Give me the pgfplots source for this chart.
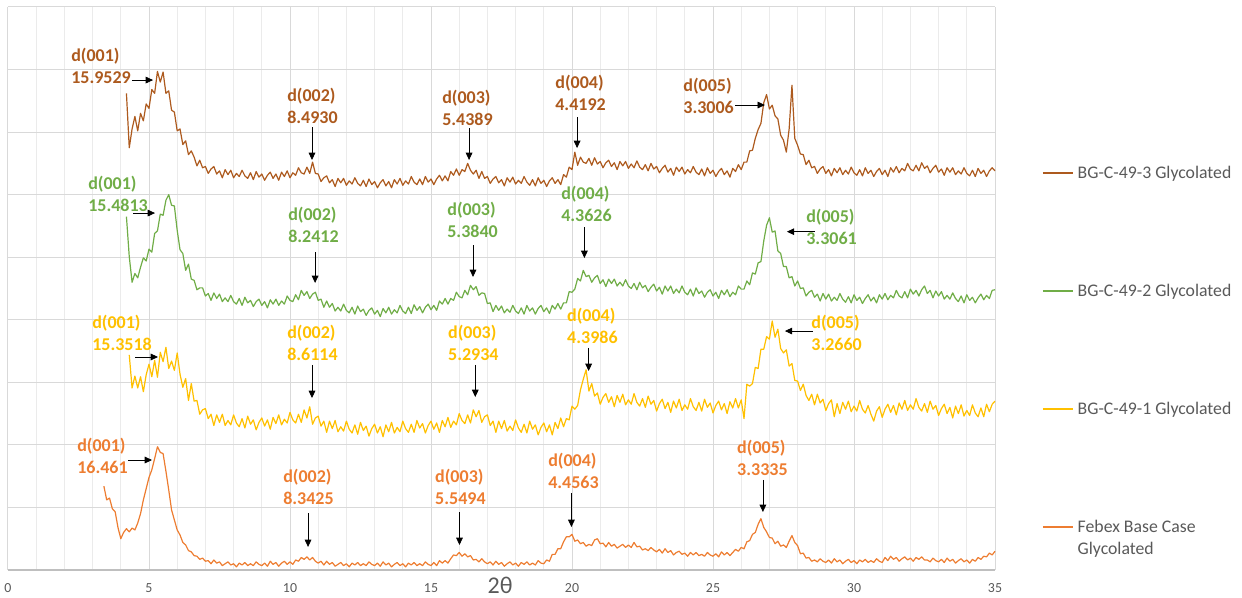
\documentclass[border=0pt]{standalone}
\usepackage{fontspec}
\setmainfont{Carlito}
\usepackage{pgfplots}
\pgfplotsset{compat=1.18}
\usetikzlibrary{arrows.meta}

\definecolor{s3}{HTML}{AD5A1E}
\definecolor{s2}{HTML}{70AD47}
\definecolor{s1}{HTML}{FFC000}
\definecolor{s0}{HTML}{ED7D31}
\definecolor{txt}{HTML}{595959}
\definecolor{gridmaj}{HTML}{D9D9D9}
\definecolor{gridmin}{HTML}{EBEBEB}
\definecolor{axisgray}{HTML}{BFBFBF}

\newcommand{\labfont}{\fontsize{13.5}{16.5}\selectfont\bfseries}
% peak label: x of left edge, baseline of first line, colour, reflection, d-spacing
\newcommand{\peak}[5]{%
  \node[anchor=base west, inner sep=0pt, text=#3, font=\labfont] at (axis cs:#1,#2) {#4};
  \node[anchor=base west, inner sep=0pt, text=#3, font=\labfont, yshift=-16.5pt] at (axis cs:#1,#2) {#5};}
% pointer arrow
\newcommand{\arr}[4]{%
  \draw[-{Triangle[length=5.5pt,width=5pt]}, line width=0.6pt, black] (axis cs:#1,#2) -- (axis cs:#3,#4);}

\begin{document}
\begin{tikzpicture}
\begin{axis}[
  at={(6pt,21pt)}, anchor=south west,
  scale only axis, width=740.25pt, height=422.25pt,
  xmin=0, xmax=35, ymin=0, ymax=9,
  xtick={0,5,...,35}, minor x tick num=4,
  ytick={0,1,...,9}, yticklabels={},
  grid=both,
  major grid style={gridmaj, line width=0.75pt},
  minor grid style={gridmin, line width=0.75pt},
  axis line style={draw=none},
  major tick length=0pt, minor tick length=0pt,
  tick label style={font=\fontsize{10.4}{12}\selectfont, text=txt},
  xticklabel style={inner sep=0pt, yshift=-10pt},
  /pgf/number format/assume math mode=true,
  clip=false,
  legend cell align=left,
  legend style={at={(1.0476,0.7185)}, anchor=north west, draw=none, fill=none,
    inner sep=0pt, row sep=77.8pt, column sep=3pt,
    font=\fontsize{13.3}{16}\selectfont, text=txt, nodes={inner sep=0pt}},
  legend image code/.code={\draw[#1, line width=1.1pt] (0pt,0pt) -- (22.5pt,0pt);},
  every axis plot/.append style={line width=0.9pt, line join=round},
]
\draw[color=axisgray, line width=0.9pt] (axis cs:0,0) -- (axis cs:35,0);

% BG-C-49-3 Glycolated
\addplot[s3] coordinates {
(4.2,7.62)(4.3,6.75)(4.4,7.05)(4.5,7.25)(4.6,7.02)(4.7,7.30)(4.8,7.18)(4.9,7.45)(5.0,7.38)(5.1,7.68)(5.2,7.62)(5.3,7.97)(5.4,7.80)(5.5,7.96)(5.6,7.62)(5.7,7.66)(5.8,7.35)(5.9,7.32)(6.0,7.02)(6.1,7.05)(6.2,6.80)(6.3,6.86)(6.4,6.64)(6.5,6.70)
(6.6,6.60)(6.7,6.46)(6.8,6.55)(6.9,6.43)(7.0,6.45)(7.1,6.34)(7.2,6.41)(7.3,6.45)(7.4,6.33)(7.5,6.38)(7.6,6.27)(7.7,6.40)(7.8,6.32)(7.9,6.39)(8.0,6.27)(8.1,6.34)(8.2,6.29)(8.3,6.39)(8.4,6.30)(8.5,6.26)(8.6,6.35)(8.7,6.24)(8.8,6.37)(8.9,6.28)(9.0,6.33)
(9.1,6.23)(9.2,6.31)(9.3,6.36)(9.4,6.26)(9.5,6.33)(9.6,6.23)(9.7,6.36)(9.8,6.29)(9.9,6.38)(10.0,6.27)(10.1,6.35)(10.2,6.31)(10.3,6.43)(10.4,6.35)(10.5,6.33)(10.6,6.44)(10.7,6.34)(10.8,6.52)(10.9,6.34)(11.0,6.33)
(11.1,6.21)(11.2,6.27)(11.3,6.30)(11.4,6.19)(11.5,6.24)(11.6,6.13)(11.7,6.26)(11.8,6.19)(11.9,6.26)(12.0,6.15)(12.1,6.22)(12.2,6.17)(12.3,6.27)(12.4,6.18)(12.5,6.14)(12.6,6.23)(12.7,6.13)(12.8,6.25)(12.9,6.16)(13.0,6.21)
(13.1,6.11)(13.2,6.19)(13.3,6.24)(13.4,6.14)(13.5,6.21)(13.6,6.11)(13.7,6.24)(13.8,6.17)(13.9,6.26)(14.0,6.15)(14.1,6.22)(14.2,6.17)(14.3,6.29)(14.4,6.20)(14.5,6.16)(14.6,6.25)(14.7,6.16)(14.8,6.29)(14.9,6.20)(15.0,6.25)
(15.1,6.16)(15.2,6.25)(15.3,6.31)(15.4,6.22)(15.5,6.30)(15.6,6.22)(15.7,6.37)(15.8,6.31)(15.9,6.41)(16.0,6.31)(16.1,6.40)(16.2,6.37)(16.3,6.50)(16.4,6.39)(16.5,6.33)(16.6,6.39)(16.7,6.26)(16.8,6.37)(16.9,6.26)(17.0,6.29)
(17.1,6.18)(17.2,6.25)(17.3,6.29)(17.4,6.19)(17.5,6.24)(17.6,6.14)(17.7,6.27)(17.8,6.20)(17.9,6.28)(18.0,6.17)(18.1,6.23)(18.2,6.18)(18.3,6.29)(18.4,6.20)(18.5,6.15)(18.6,6.24)(18.7,6.14)(18.8,6.27)(18.9,6.18)(19.0,6.23)
(19.1,6.13)(19.2,6.22)(19.3,6.27)(19.4,6.18)(19.5,6.24)(19.6,6.16)(19.7,6.32)(19.8,6.28)(19.9,6.44)(20.0,6.40)(20.1,6.68)(20.2,6.47)(20.3,6.60)(20.4,6.52)(20.5,6.50)(20.6,6.58)(20.7,6.47)(20.8,6.59)(20.9,6.49)(21.0,6.53)
(21.1,6.43)(21.2,6.51)(21.3,6.55)(21.4,6.45)(21.5,6.51)(21.6,6.40)(21.7,6.53)(21.8,6.46)(21.9,6.53)(22.0,6.42)(22.1,6.49)(22.2,6.43)(22.3,6.54)(22.4,6.44)(22.5,6.40)(22.6,6.48)(22.7,6.38)(22.8,6.50)(22.9,6.41)(23.0,6.45)
(23.1,6.35)(23.2,6.42)(23.3,6.47)(23.4,6.36)(23.5,6.42)(23.6,6.31)(23.7,6.44)(23.8,6.37)(23.9,6.44)(24.0,6.33)(24.1,6.40)(24.2,6.35)(24.3,6.45)(24.4,6.36)(24.5,6.32)(24.6,6.41)(24.7,6.30)(24.8,6.43)(24.9,6.34)(25.0,6.39)
(25.1,6.29)(25.2,6.37)(25.3,6.42)(25.4,6.32)(25.5,6.38)(25.6,6.28)(25.7,6.42)(25.8,6.37)(25.9,6.48)(26.0,6.40)(26.1,6.52)(26.2,6.52)(26.3,6.70)(26.4,6.71)(26.5,6.90)(26.6,7.04)(26.7,7.14)(26.8,7.47)(26.9,7.60)(27.0,7.37)
(27.1,7.43)(27.2,7.26)(27.3,7.21)(27.4,6.95)(27.5,6.87)(27.6,6.68)(27.7,7.05)(27.8,7.75)(27.9,6.90)(28.0,6.79)(28.1,6.65)(28.2,6.64)(28.3,6.48)(28.4,6.55)(28.5,6.43)(28.6,6.45)(28.7,6.34)(28.8,6.41)(28.9,6.45)(29.0,6.34)
(29.1,6.40)(29.2,6.30)(29.3,6.42)(29.4,6.35)(29.5,6.43)(29.6,6.32)(29.7,6.39)(29.8,6.33)(29.9,6.44)(30.0,6.35)(30.1,6.31)(30.2,6.40)(30.3,6.30)(30.4,6.43)(30.5,6.34)(30.6,6.39)(30.7,6.29)(30.8,6.37)(30.9,6.42)(31.0,6.32)
(31.1,6.39)(31.2,6.29)(31.3,6.43)(31.4,6.36)(31.5,6.45)(31.6,6.35)(31.7,6.42)(31.8,6.38)(31.9,6.50)(32.0,6.41)(32.1,6.38)(32.2,6.47)(32.3,6.38)(32.4,6.51)(32.5,6.42)(32.6,6.46)(32.7,6.35)(32.8,6.42)(32.9,6.47)(33.0,6.36)
(33.1,6.41)(33.2,6.31)(33.3,6.43)(33.4,6.36)(33.5,6.43)(33.6,6.32)(33.7,6.38)(33.8,6.33)(33.9,6.43)(34.0,6.34)(34.1,6.30)(34.2,6.39)(34.3,6.29)(34.4,6.42)(34.5,6.34)(34.6,6.39)(34.7,6.29)(34.8,6.38)(34.9,6.43)(35.0,6.38)
};
\addlegendentry{BG-C-49-3 Glycolated}

% BG-C-49-2 Glycolated
\addplot[s2] coordinates {
(4.2,5.65)(4.3,5.01)(4.4,4.60)(4.5,4.74)(4.6,4.67)(4.7,4.84)(4.8,4.99)(4.9,4.94)(5.0,5.13)(5.1,5.08)(5.2,5.38)(5.3,5.42)(5.4,5.69)(5.5,5.67)(5.6,5.91)(5.7,6.00)(5.8,5.83)(5.9,5.82)(6.0,5.43)(6.1,5.12)(6.2,5.06)(6.3,4.79)(6.4,4.89)(6.5,4.65)
(6.6,4.63)(6.7,4.48)(6.8,4.51)(6.9,4.51)(7.0,4.38)(7.1,4.42)(7.2,4.31)(7.3,4.43)(7.4,4.34)(7.5,4.41)(7.6,4.29)(7.7,4.35)(7.8,4.29)(7.9,4.39)(8.0,4.29)(8.1,4.25)(8.2,4.34)(8.3,4.23)(8.4,4.36)(8.5,4.27)(8.6,4.31)(8.7,4.21)(8.8,4.29)(8.9,4.33)(9.0,4.23)
(9.1,4.29)(9.2,4.19)(9.3,4.32)(9.4,4.25)(9.5,4.33)(9.6,4.23)(9.7,4.30)(9.8,4.25)(9.9,4.38)(10.0,4.31)(10.1,4.29)(10.2,4.40)(10.3,4.32)(10.4,4.47)(10.5,4.39)(10.6,4.45)(10.7,4.34)(10.8,4.41)(10.9,4.44)(11.0,4.31)
(11.1,4.33)(11.2,4.20)(11.3,4.30)(11.4,4.20)(11.5,4.26)(11.6,4.14)(11.7,4.20)(11.8,4.14)(11.9,4.25)(12.0,4.15)(12.1,4.11)(12.2,4.20)(12.3,4.09)(12.4,4.22)(12.5,4.13)(12.6,4.17)(12.7,4.07)(12.8,4.15)(12.9,4.19)(13.0,4.09)
(13.1,4.15)(13.2,4.05)(13.3,4.18)(13.4,4.11)(13.5,4.20)(13.6,4.09)(13.7,4.16)(13.8,4.11)(13.9,4.23)(14.0,4.14)(14.1,4.10)(14.2,4.20)(14.3,4.10)(14.4,4.24)(14.5,4.15)(14.6,4.21)(14.7,4.11)(14.8,4.20)(14.9,4.25)(15.0,4.16)
(15.1,4.23)(15.2,4.15)(15.3,4.30)(15.4,4.25)(15.5,4.34)(15.6,4.25)(15.7,4.34)(15.8,4.31)(15.9,4.44)(16.0,4.37)(16.1,4.35)(16.2,4.47)(16.3,4.40)(16.4,4.55)(16.5,4.48)(16.6,4.53)(16.7,4.39)(16.8,4.43)(16.9,4.42)(17.0,4.26)
(17.1,4.27)(17.2,4.13)(17.3,4.23)(17.4,4.15)(17.5,4.22)(17.6,4.11)(17.7,4.17)(17.8,4.12)(17.9,4.23)(18.0,4.14)(18.1,4.10)(18.2,4.19)(18.3,4.09)(18.4,4.23)(18.5,4.14)(18.6,4.19)(18.7,4.09)(18.8,4.18)(18.9,4.23)(19.0,4.13)
(19.1,4.19)(19.2,4.10)(19.3,4.23)(19.4,4.17)(19.5,4.26)(19.6,4.17)(19.7,4.27)(19.8,4.27)(19.9,4.45)(20.0,4.44)(20.1,4.49)(20.2,4.66)(20.3,4.62)(20.4,4.79)(20.5,4.69)(20.6,4.71)(20.7,4.60)(20.8,4.67)(20.9,4.71)(21.0,4.58)
(21.1,4.64)(21.2,4.53)(21.3,4.65)(21.4,4.58)(21.5,4.65)(21.6,4.54)(21.7,4.60)(21.8,4.54)(21.9,4.64)(22.0,4.54)(22.1,4.50)(22.2,4.58)(22.3,4.48)(22.4,4.60)(22.5,4.51)(22.6,4.55)(22.7,4.45)(22.8,4.52)(22.9,4.57)(23.0,4.46)
(23.1,4.52)(23.2,4.41)(23.3,4.54)(23.4,4.46)(23.5,4.54)(23.6,4.42)(23.7,4.49)(23.8,4.43)(23.9,4.54)(24.0,4.44)(24.1,4.40)(24.2,4.49)(24.3,4.38)(24.4,4.51)(24.5,4.42)(24.6,4.46)(24.7,4.36)(24.8,4.44)(24.9,4.48)(25.0,4.38)
(25.1,4.44)(25.2,4.34)(25.3,4.47)(25.4,4.40)(25.5,4.48)(25.6,4.37)(25.7,4.44)(25.8,4.40)(25.9,4.54)(26.0,4.49)(26.1,4.49)(26.2,4.62)(26.3,4.56)(26.4,4.75)(26.5,4.73)(26.6,4.91)(26.7,4.93)(26.8,5.26)(26.9,5.51)(27.0,5.63)
(27.1,5.40)(27.2,5.42)(27.3,5.10)(27.4,5.06)(27.5,4.85)(27.6,4.85)(27.7,4.67)(27.8,4.69)(27.9,4.54)(28.0,4.62)(28.1,4.50)(28.2,4.51)(28.3,4.38)(28.4,4.44)(28.5,4.47)(28.6,4.36)(28.7,4.41)(28.8,4.30)(28.9,4.42)(29.0,4.33)
(29.1,4.41)(29.2,4.30)(29.3,4.36)(29.4,4.31)(29.5,4.42)(29.6,4.33)(29.7,4.28)(29.8,4.37)(29.9,4.27)(30.0,4.40)(30.1,4.31)(30.2,4.36)(30.3,4.26)(30.4,4.34)(30.5,4.40)(30.6,4.30)(30.7,4.36)(30.8,4.27)(30.9,4.40)(31.0,4.33)
(31.1,4.42)(31.2,4.32)(31.3,4.39)(31.4,4.35)(31.5,4.47)(31.6,4.38)(31.7,4.35)(31.8,4.45)(31.9,4.35)(32.0,4.49)(32.1,4.41)(32.2,4.47)(32.3,4.38)(32.4,4.48)(32.5,4.54)(32.6,4.42)(32.7,4.47)(32.8,4.35)(32.9,4.46)(33.0,4.38)
(33.1,4.45)(33.2,4.33)(33.3,4.39)(33.4,4.33)(33.5,4.43)(33.6,4.34)(33.7,4.29)(33.8,4.38)(33.9,4.27)(34.0,4.40)(34.1,4.31)(34.2,4.36)(34.3,4.27)(34.4,4.35)(34.5,4.41)(34.6,4.32)(34.7,4.39)(34.8,4.34)(34.9,4.47)(35.0,4.48)
};
\addlegendentry{BG-C-49-2 Glycolated}

% BG-C-49-1 Glycolated
\addplot[s1] coordinates {
(4.3,3.44)(4.4,2.91)(4.5,3.10)(4.6,2.91)(4.7,3.09)(4.8,2.85)(4.9,3.12)(5.0,3.29)(5.1,3.09)(5.2,3.35)(5.3,3.08)(5.4,3.48)(5.5,3.33)(5.6,3.56)(5.7,3.22)(5.8,3.34)(5.9,3.19)(6.0,3.47)(6.1,3.13)(6.2,2.92)(6.3,3.06)(6.4,2.71)(6.5,2.98)
(6.6,2.70)(6.7,2.71)(6.8,2.49)(6.9,2.56)(7.0,2.58)(7.1,2.42)(7.2,2.49)(7.3,2.31)(7.4,2.48)(7.5,2.36)(7.6,2.49)(7.7,2.31)(7.8,2.39)(7.9,2.32)(8.0,2.48)(8.1,2.35)(8.2,2.29)(8.3,2.42)(8.4,2.27)(8.5,2.46)(8.6,2.33)(8.7,2.40)(8.8,2.24)(8.9,2.36)(9.0,2.43)
(9.1,2.30)(9.2,2.40)(9.3,2.25)(9.4,2.44)(9.5,2.34)(9.6,2.48)(9.7,2.32)(9.8,2.41)(9.9,2.35)(10.0,2.52)(10.1,2.40)(10.2,2.35)(10.3,2.49)(10.4,2.36)(10.5,2.56)(10.6,2.43)(10.7,2.61)(10.8,2.33)(10.9,2.43)(11.0,2.46)
(11.1,2.30)(11.2,2.38)(11.3,2.20)(11.4,2.38)(11.5,2.26)(11.6,2.39)(11.7,2.21)(11.8,2.29)(11.9,2.22)(12.0,2.38)(12.1,2.25)(12.2,2.19)(12.3,2.32)(12.4,2.17)(12.5,2.36)(12.6,2.23)(12.7,2.30)(12.8,2.14)(12.9,2.26)(13.0,2.33)
(13.1,2.19)(13.2,2.29)(13.3,2.13)(13.4,2.32)(13.5,2.21)(13.6,2.36)(13.7,2.19)(13.8,2.28)(13.9,2.21)(14.0,2.38)(14.1,2.26)(14.2,2.20)(14.3,2.33)(14.4,2.20)(14.5,2.39)(14.6,2.27)(14.7,2.34)(14.8,2.19)(14.9,2.31)(15.0,2.38)
(15.1,2.25)(15.2,2.35)(15.3,2.20)(15.4,2.39)(15.5,2.29)(15.6,2.44)(15.7,2.28)(15.8,2.38)(15.9,2.32)(16.0,2.50)(16.1,2.39)(16.2,2.34)(16.3,2.48)(16.4,2.35)(16.5,2.56)(16.6,2.45)(16.7,2.55)(16.8,2.36)(16.9,2.45)(17.0,2.48)
(17.1,2.31)(17.2,2.38)(17.3,2.20)(17.4,2.38)(17.5,2.26)(17.6,2.39)(17.7,2.22)(17.8,2.30)(17.9,2.23)(18.0,2.40)(18.1,2.27)(18.2,2.20)(18.3,2.33)(18.4,2.19)(18.5,2.38)(18.6,2.25)(18.7,2.32)(18.8,2.16)(18.9,2.28)(19.0,2.35)
(19.1,2.21)(19.2,2.32)(19.3,2.16)(19.4,2.36)(19.5,2.26)(19.6,2.43)(19.7,2.29)(19.8,2.42)(19.9,2.40)(20.0,2.62)(20.1,2.57)(20.2,2.63)(20.3,2.88)(20.4,3.05)(20.5,3.20)(20.6,2.86)(20.7,2.98)(20.8,2.78)(20.9,2.83)(21.0,2.65)
(21.1,2.76)(21.2,2.82)(21.3,2.68)(21.4,2.77)(21.5,2.61)(21.6,2.79)(21.7,2.68)(21.8,2.81)(21.9,2.64)(22.0,2.72)(22.1,2.65)(22.2,2.82)(22.3,2.68)(22.4,2.62)(22.5,2.74)(22.6,2.60)(22.7,2.78)(22.8,2.65)(22.9,2.71)(23.0,2.54)
(23.1,2.66)(23.2,2.73)(23.3,2.58)(23.4,2.68)(23.5,2.52)(23.6,2.70)(23.7,2.59)(23.8,2.73)(23.9,2.55)(24.0,2.64)(24.1,2.57)(24.2,2.74)(24.3,2.61)(24.4,2.55)(24.5,2.68)(24.6,2.54)(24.7,2.73)(24.8,2.60)(24.9,2.67)(25.0,2.51)
(25.1,2.63)(25.2,2.70)(25.3,2.56)(25.4,2.66)(25.5,2.50)(25.6,2.69)(25.7,2.59)(25.8,2.74)(25.9,2.59)(26.0,2.72)(26.1,2.42)(26.2,2.97)(26.3,2.94)(26.4,2.98)(26.5,3.24)(26.6,3.22)(26.7,3.53)(26.8,3.53)(26.9,3.73)(27.0,3.69)
(27.1,3.98)(27.2,3.72)(27.3,3.85)(27.4,3.54)(27.5,3.47)(27.6,3.52)(27.7,3.26)(27.8,3.30)(27.9,3.03)(28.0,3.02)(28.1,2.87)(28.2,2.97)(28.3,2.79)(28.4,2.71)(28.5,2.81)(28.6,2.64)(28.7,2.81)(28.8,2.67)(28.9,2.73)(29.0,2.55)
(29.1,2.66)(29.2,2.72)(29.3,2.45)(29.4,2.66)(29.5,2.50)(29.6,2.68)(29.7,2.57)(29.8,2.70)(29.9,2.53)(30.0,2.62)(30.1,2.54)(30.2,2.71)(30.3,2.57)(30.4,2.51)(30.5,2.63)(30.6,2.49)(30.7,2.38)(30.8,2.54)(30.9,2.61)(31.0,2.44)
(31.1,2.57)(31.2,2.65)(31.3,2.52)(31.4,2.63)(31.5,2.48)(31.6,2.67)(31.7,2.57)(31.8,2.71)(31.9,2.55)(32.0,2.64)(32.1,2.57)(32.2,2.74)(32.3,2.60)(32.4,2.54)(32.5,2.66)(32.6,2.52)(32.7,2.70)(32.8,2.57)(32.9,2.63)(33.0,2.47)
(33.1,2.58)(33.2,2.65)(33.3,2.50)(33.4,2.60)(33.5,2.43)(33.6,2.62)(33.7,2.50)(33.8,2.64)(33.9,2.46)(34.0,2.55)(34.1,2.47)(34.2,2.64)(34.3,2.51)(34.4,2.45)(34.5,2.59)(34.6,2.45)(34.7,2.65)(34.8,2.53)(34.9,2.65)(35.0,2.70)
};
\addlegendentry{BG-C-49-1 Glycolated}

% Febex Base Case Glycolated
\addplot[s0] coordinates {
(3.4,1.34)(3.5,1.12)(3.6,1.15)(3.7,0.98)(3.8,0.93)(3.9,0.68)(4.0,0.50)(4.1,0.60)(4.2,0.66)(4.3,0.61)(4.4,0.67)(4.5,0.64)(4.6,0.75)(4.7,0.90)(4.8,1.12)(4.9,1.30)(5.0,1.48)(5.1,1.60)(5.2,1.78)(5.3,1.97)(5.4,1.88)(5.5,1.86)(5.6,1.58)(5.7,1.28)(5.8,0.96)(5.9,0.80)(6.0,0.64)
(6.1,0.56)(6.2,0.44)(6.3,0.40)(6.4,0.31)(6.5,0.29)(6.6,0.23)(6.7,0.22)(6.8,0.17)(6.9,0.19)(7.0,0.14)
(7.1,0.15)(7.2,0.10)(7.3,0.16)(7.4,0.11)(7.5,0.13)(7.6,0.07)(7.7,0.10)(7.8,0.13)(7.9,0.08)(8.0,0.10)(8.1,0.05)(8.2,0.11)(8.3,0.08)(8.4,0.12)(8.5,0.07)(8.6,0.10)(8.7,0.07)(8.8,0.13)(8.9,0.09)(9.0,0.07)
(9.1,0.11)(9.2,0.06)(9.3,0.14)(9.4,0.09)(9.5,0.12)(9.6,0.06)(9.7,0.11)(9.8,0.14)(9.9,0.09)(10.0,0.13)(10.1,0.09)(10.2,0.16)(10.3,0.14)(10.4,0.20)(10.5,0.17)(10.6,0.21)(10.7,0.16)(10.8,0.20)(10.9,0.14)(11.0,0.11)
(11.1,0.14)(11.2,0.08)(11.3,0.14)(11.4,0.09)(11.5,0.12)(11.6,0.06)(11.7,0.09)(11.8,0.12)(11.9,0.07)(12.0,0.10)(12.1,0.05)(12.2,0.11)(12.3,0.08)(12.4,0.12)(12.5,0.07)(12.6,0.10)(12.7,0.07)(12.8,0.13)(12.9,0.09)(13.0,0.07)
(13.1,0.11)(13.2,0.06)(13.3,0.13)(13.4,0.08)(13.5,0.11)(13.6,0.05)(13.7,0.09)(13.8,0.12)(13.9,0.07)(14.0,0.10)(14.1,0.05)(14.2,0.11)(14.3,0.08)(14.4,0.12)(14.5,0.07)(14.6,0.10)(14.7,0.07)(14.8,0.13)(14.9,0.09)(15.0,0.07)
(15.1,0.12)(15.2,0.07)(15.3,0.15)(15.4,0.11)(15.5,0.15)(15.6,0.11)(15.7,0.18)(15.8,0.24)(15.9,0.23)(16.0,0.28)(16.1,0.22)(16.2,0.26)(16.3,0.21)(16.4,0.23)(16.5,0.16)(16.6,0.17)(16.7,0.13)(16.8,0.18)(16.9,0.13)(17.0,0.10)
(17.1,0.13)(17.2,0.08)(17.3,0.14)(17.4,0.09)(17.5,0.12)(17.6,0.06)(17.7,0.10)(17.8,0.13)(17.9,0.08)(18.0,0.11)(18.1,0.06)(18.2,0.12)(18.3,0.09)(18.4,0.13)(18.5,0.08)(18.6,0.11)(18.7,0.08)(18.8,0.15)(18.9,0.11)(19.0,0.10)
(19.1,0.16)(19.2,0.14)(19.3,0.25)(19.4,0.25)(19.5,0.34)(19.6,0.34)(19.7,0.45)(19.8,0.53)(19.9,0.53)(20.0,0.57)(20.1,0.46)(20.2,0.48)(20.3,0.42)(20.4,0.44)(20.5,0.38)(20.6,0.41)(20.7,0.39)(20.8,0.48)(20.9,0.50)(21.0,0.42)
(21.1,0.43)(21.2,0.37)(21.3,0.44)(21.4,0.38)(21.5,0.41)(21.6,0.35)(21.7,0.38)(21.8,0.41)(21.9,0.36)(22.0,0.40)(22.1,0.36)(22.2,0.44)(22.3,0.37)(22.4,0.38)(22.5,0.32)(22.6,0.34)(22.7,0.31)(22.8,0.36)(22.9,0.32)(23.0,0.29)
(23.1,0.33)(23.2,0.27)(23.3,0.34)(23.4,0.28)(23.5,0.31)(23.6,0.24)(23.7,0.28)(23.8,0.30)(23.9,0.25)(24.0,0.27)(24.1,0.22)(24.2,0.28)(24.3,0.24)(24.4,0.28)(24.5,0.23)(24.6,0.25)(24.7,0.22)(24.8,0.28)(24.9,0.24)(25.0,0.22)
(25.1,0.26)(25.2,0.21)(25.3,0.29)(25.4,0.24)(25.5,0.28)(25.6,0.23)(25.7,0.28)(25.8,0.33)(25.9,0.30)(26.0,0.36)(26.1,0.34)(26.2,0.45)(26.3,0.47)(26.4,0.57)(26.5,0.60)(26.6,0.73)(26.7,0.82)(26.8,0.68)(26.9,0.61)(27.0,0.52)
(27.1,0.51)(27.2,0.42)(27.3,0.46)(27.4,0.38)(27.5,0.40)(27.6,0.36)(27.7,0.46)(27.8,0.55)(27.9,0.44)(28.0,0.39)(28.1,0.26)(28.2,0.27)(28.3,0.19)(28.4,0.20)(28.5,0.14)(28.6,0.16)(28.7,0.13)(28.8,0.18)(28.9,0.14)(29.0,0.12)
(29.1,0.16)(29.2,0.11)(29.3,0.18)(29.4,0.13)(29.5,0.16)(29.6,0.10)(29.7,0.14)(29.8,0.17)(29.9,0.12)(30.0,0.15)(30.1,0.10)(30.2,0.16)(30.3,0.13)(30.4,0.17)(30.5,0.12)(30.6,0.15)(30.7,0.12)(30.8,0.18)(30.9,0.14)(31.0,0.12)
(31.1,0.20)(31.2,0.15)(31.3,0.22)(31.4,0.17)(31.5,0.20)(31.6,0.14)(31.7,0.18)(31.8,0.21)(31.9,0.16)(32.0,0.19)(32.1,0.14)(32.2,0.20)(32.3,0.17)(32.4,0.21)(32.5,0.16)(32.6,0.16)(32.7,0.13)(32.8,0.19)(32.9,0.15)(33.0,0.13)
(33.1,0.17)(33.2,0.12)(33.3,0.19)(33.4,0.14)(33.5,0.17)(33.6,0.11)(33.7,0.15)(33.8,0.18)(33.9,0.13)(34.0,0.16)(34.1,0.11)(34.2,0.17)(34.3,0.14)(34.4,0.20)(34.5,0.17)(34.6,0.22)(34.7,0.21)(34.8,0.27)(34.9,0.24)(35.0,0.30)
};
\addlegendentry{\rlap{\smash{\raisebox{-17pt}{Glycolated}}}Febex Base Case}

% reflections, BG-C-49-3
\peak{2.234}{8.135}{s3}{d(001)}{15.9529}
\arr{4.397}{7.832}{5.142}{7.832}
\peak{9.894}{7.497}{s3}{d(002)}{8.4930}
\arr{10.78}{7.081}{10.78}{6.554}
\peak{15.39}{7.465}{s3}{d(003)}{5.4389}
\arr{16.35}{7.065}{16.35}{6.554}
\peak{19.40}{7.704}{s3}{d(004)}{4.4192}
\arr{20.18}{7.241}{20.18}{6.745}
\peak{23.94}{7.657}{s3}{d(005)}{3.3006}
\arr{25.78}{7.433}{26.84}{7.433}

% reflections, BG-C-49-2
\peak{2.837}{6.090}{s2}{d(001)}{15.4813}
\arr{4.433}{5.706}{5.213}{5.706}
\peak{9.929}{5.579}{s2}{d(002)}{8.2412}
\arr{10.89}{5.083}{10.89}{4.588}
\peak{15.57}{5.659}{s2}{d(003)}{5.3840}
\arr{16.49}{5.195}{16.49}{4.684}
\peak{19.61}{5.930}{s2}{d(004)}{4.3626}
\arr{20.44}{5.483}{20.44}{4.987}
\peak{28.30}{5.547}{s2}{d(005)}{3.3061}
\arr{28.61}{5.408}{27.62}{5.408}

% reflections, BG-C-49-1
\peak{2.979}{3.868}{s1}{d(001)}{15.3518}
\arr{4.504}{3.405}{5.319}{3.405}
\peak{9.894}{3.708}{s1}{d(002)}{8.6114}
\arr{10.78}{3.277}{10.78}{2.749}
\peak{15.60}{3.708}{s1}{d(003)}{5.2934}
\arr{16.57}{3.277}{16.57}{2.765}
\peak{19.82}{3.980}{s1}{d(004)}{4.3986}
\arr{20.59}{3.549}{20.59}{3.181}
\peak{28.48}{3.868}{s1}{d(005)}{3.2660}
\arr{28.54}{3.820}{27.55}{3.820}

% reflections, Febex base case
\peak{2.447}{1.902}{s0}{d(001)}{16.461}
\arr{4.255}{1.758}{5.106}{1.758}
\peak{9.752}{1.391}{s0}{d(002)}{8.3425}
\arr{10.64}{0.911}{10.64}{0.368}
\peak{15.14}{1.391}{s0}{d(003)}{5.5494}
\arr{16.01}{0.927}{16.01}{0.400}
\peak{19.15}{1.662}{s0}{d(004)}{4.4563}
\arr{19.98}{1.231}{19.98}{0.687}
\peak{25.85}{1.870}{s0}{d(005)}{3.3335}
\arr{26.77}{1.439}{26.77}{0.927}

\node[text=txt, font=\fontsize{18}{20}\selectfont, inner sep=0pt] at (axis cs:17.45,-0.245) {2θ};
\end{axis}
\pgfresetboundingbox
\path[use as bounding box] (0,0) rectangle (931.5pt,448.5pt);
\end{tikzpicture}
\end{document}
